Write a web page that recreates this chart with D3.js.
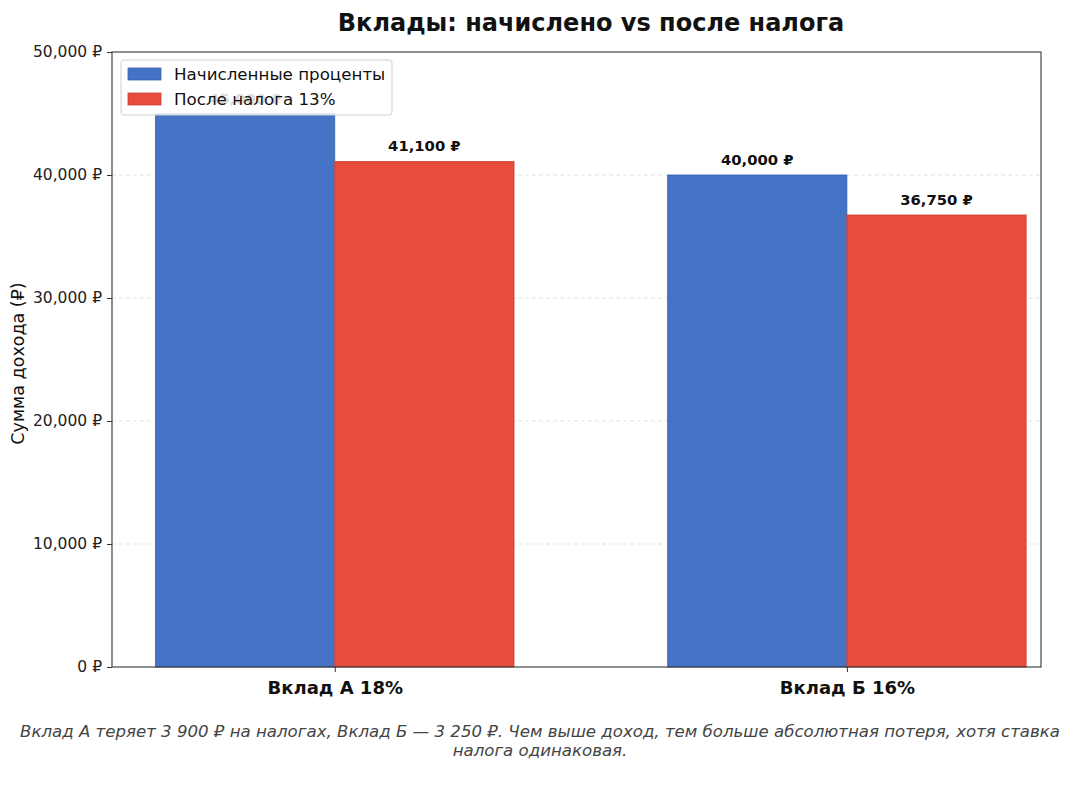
<!DOCTYPE html>
<html>
<head>
<meta charset="utf-8">
<script src="https://cdn.jsdelivr.net/npm/d3@7"></script>
<style>
  html, body { margin: 0; padding: 0; background: #fff; }
  svg { display: block; font-family: "DejaVu Sans", sans-serif; }
</style>
</head>
<body>
<svg id="chart" width="1080" height="789"></svg>
<script>
const categories = ["Вклад А 18%", "Вклад Б 16%"];
const accrued = [45000, 40000];
const afterTax = [41100, 36750];
const seriesNames = ["Начисленные проценты", "После налога 13%"];
const yTicks = [0, 10000, 20000, 30000, 40000, 50000];
const titleText = "Вклады: начислено vs после налога";
const yLabel = "Сумма дохода (₽)";
const footer = ["Вклад А теряет 3 900 ₽ на налогах, Вклад Б — 3 250 ₽. Чем выше доход, тем больше абсолютная потеря, хотя ставка",
                "налога одинаковая."];

const colors = ["#4472C4", "#E74C3C"];
const edgeColors = ["#3a63ad", "#c94133"];
const svg = d3.select("#chart");
const L = 112, R = 1041, T = 52, B = 667;
const barW = 0.35;

const x = d3.scaleLinear().domain([-0.435, 1.379]).range([L, R]);
const y = d3.scaleLinear().domain([0, 50000]).range([B, T]);
const fmt = v => d3.format(",")(v) + " ₽";

// grid
svg.append("g").selectAll("line").data(yTicks.slice(1, -1)).join("line")
  .attr("x1", L).attr("x2", R)
  .attr("y1", d => y(d)).attr("y2", d => y(d))
  .attr("stroke", "#d9d9d9").attr("stroke-width", 0.8).attr("stroke-dasharray", "4,3");

// bars
const series = [accrued, afterTax];
series.forEach((vals, si) => {
  const off = si === 0 ? -barW / 2 : barW / 2;
  svg.append("g").selectAll("rect").data(vals).join("rect")
    .attr("x", (d, i) => x(i + off - barW / 2))
    .attr("width", (d, i) => x(i + off + barW / 2) - x(i + off - barW / 2))
    .attr("y", d => y(d))
    .attr("height", d => B - y(d))
    .attr("fill", colors[si])
    .attr("stroke", edgeColors[si]).attr("stroke-width", 0.8);
  svg.append("g").selectAll("text").data(vals).join("text")
    .attr("x", (d, i) => x(i + off))
    .attr("y", d => y(d) - 10)
    .attr("text-anchor", "middle")
    .attr("font-size", 14.8).attr("font-weight", "bold").attr("fill", "#111")
    .text(d => fmt(d));
});

// axes
const yAxis = d3.axisLeft(y).tickValues(yTicks).tickSize(5).tickPadding(5).tickFormat(fmt);
const gy = svg.append("g").attr("transform", `translate(${L},0)`).call(yAxis);
gy.select(".domain").remove();
gy.selectAll("text").attr("font-size", 15.5).attr("fill", "#222").attr("font-family", "DejaVu Sans");
gy.selectAll("line").attr("stroke", "#333");

const xAxis = d3.axisBottom(x).tickValues([0, 1]).tickSize(5).tickPadding(9).tickFormat(i => categories[i]);
const gx = svg.append("g").attr("transform", `translate(0,${B})`).call(xAxis);
gx.select(".domain").remove();
gx.selectAll("text").attr("font-size", 18).attr("font-weight", "bold").attr("fill", "#111").attr("font-family", "DejaVu Sans");
gx.selectAll("line").attr("stroke", "#333");

// frame
svg.append("rect").attr("x", L).attr("y", T).attr("width", R - L).attr("height", B - T)
  .attr("fill", "none").attr("stroke", "#333").attr("stroke-width", 1.1);

// title
svg.append("text").attr("x", 591).attr("y", 31).attr("text-anchor", "middle")
  .attr("font-size", 24).attr("font-weight", "bold").attr("fill", "#111").text(titleText);

// y label
svg.append("text").attr("transform", `translate(24,${(T + B) / 2 + 4}) rotate(-90)`)
  .attr("text-anchor", "middle").attr("font-size", 17.5).attr("fill", "#111").text(yLabel);

// legend
const lg = svg.append("g");
lg.append("rect").attr("x", 121).attr("y", 60).attr("width", 271).attr("height", 55).attr("rx", 3)
  .attr("fill", "#fff").attr("fill-opacity", 0.85).attr("stroke", "#d0d0d0").attr("stroke-width", 1);
seriesNames.forEach((n, i) => {
  lg.append("rect").attr("x", 128).attr("y", 68 + i * 25).attr("width", 33).attr("height", 12)
    .attr("fill", colors[i]).attr("stroke", edgeColors[i]).attr("stroke-width", 0.8);
  lg.append("text").attr("x", 174).attr("y", 80 + i * 25).attr("font-size", 16.7).attr("fill", "#111").text(n);
});

// footer
footer.forEach((t, i) => {
  svg.append("text").attr("x", 540).attr("y", 737 + i * 19).attr("text-anchor", "middle")
    .attr("font-size", 16.6).attr("font-style", "italic").attr("fill", "#444").text(t);
});
</script>
</body>
</html>
